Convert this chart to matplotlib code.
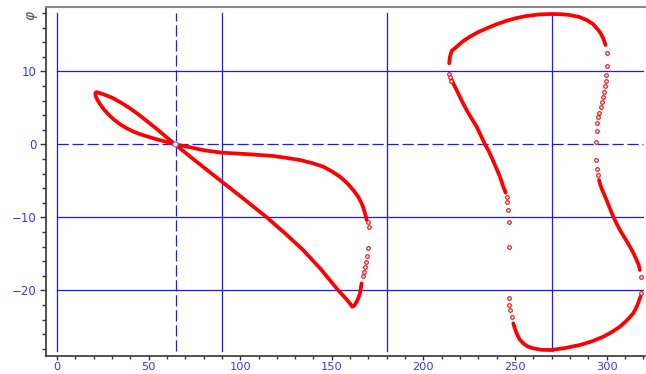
import matplotlib
matplotlib.use("Agg")
import matplotlib.pyplot as plt
from matplotlib.ticker import MultipleLocator

# ---- data ----
# left loop, dense part (traced in order)
left_x = [169.05, 168.6, 168.1, 167.3, 166.3, 164.2, 161.7, 158.3, 154.5, 150.0, 145.4, 139.0,
          132.6, 125.0, 118.1, 104.0, 90.2, 81.0, 72.6, 64.4,
          58.0, 53.5, 48.96, 45.2, 41.6, 38.0, 34.4, 31.0, 28.0, 25.5, 23.5, 22.0, 21.1, 20.9,
          21.5, 23.5, 27.0, 30.7, 35.3, 39.8, 44.4, 48.96, 53.5, 58.0, 64.4,
          72.6, 81.4, 90.2, 102.3, 114.5, 124.5, 134.4, 144.0, 153.5, 158.3, 160.2, 161.2,
          162.3, 163.6, 164.6, 165.4, 166.3]
left_y = [-10.37, -9.9, -9.45, -8.75, -8.08, -7.1, -6.26, -5.3, -4.44, -3.7, -3.07, -2.55,
          -2.15, -1.85, -1.60, -1.35, -1.15, -0.85, -0.41, 0.0,
          0.45, 0.75, 1.10, 1.4, 1.75, 2.2, 2.75, 3.4, 4.1, 4.8, 5.5, 6.1, 6.6, 7.0,
          7.15, 7.0, 6.7, 6.3, 5.65, 4.93, 4.1, 3.2, 2.3, 1.35, 0.0,
          -1.67, -3.42, -5.16, -7.55, -10.0, -12.2, -14.5, -17.1, -20.0, -21.3, -21.9, -22.25,
          -22.1, -21.56, -21.0, -20.4, -19.04]
# left loop, sparse samples
left_pts_x = [167.2, 167.6, 168.1, 168.7, 169.0, 169.9, 170.3, 169.8]
left_pts_y = [-18.1, -17.45, -16.77, -16.08, -15.34, -14.25, -11.29, -10.64]

# right loop, dense parts
r_left_x = [244.9, 244.3, 243.6, 242.8, 241.8, 240.5, 239.1, 237.3, 235.4, 233.6, 231.4,
            229.1, 226.3, 223.6, 221.2, 219.0, 217.5, 216.3, 215.4]
r_left_y = [-6.63, -6.2, -5.81, -5.15, -4.44, -3.65, -2.84, -1.8, -0.78, 0.0, 1.2,
            2.41, 3.55, 4.70, 5.85, 6.99, 7.75, 8.36, 8.9]
r_top_x = [214.1, 214.5, 215.5, 218.2, 221.5, 225.4, 229.8, 234.6, 240.0, 245.5, 250.8,
           256.4, 263.0, 269.7, 275.0, 280.0, 285.0, 289.1, 292.5, 295.5, 297.0, 298.2, 299.5]
r_top_y = [11.1, 12.0, 12.8, 13.37, 14.1, 14.74, 15.35, 15.89, 16.45, 16.93, 17.3,
           17.58, 17.78, 17.85, 17.83, 17.71, 17.45, 17.03, 16.5, 15.66, 15.1, 14.52, 13.6]
r_right_x = [295.9, 296.5, 297.3, 298.6, 300.0, 301.8, 303.7, 305.5, 307.3, 310.0, 312.8,
             314.8, 316.4, 317.5, 318.2]
r_right_y = [-4.89, -5.45, -6.03, -6.8, -7.63, -8.75, -9.92, -10.85, -11.74, -12.85, -14.03,
             -14.95, -15.85, -16.5, -17.22]
r_bottom_x = [318.6, 318.2, 316.6, 314.6, 311.2, 307.3, 303.0, 298.2, 292.0, 285.5, 277.5,
              269.7, 264.5, 260.0, 257.0, 254.5, 252.5, 250.9, 249.9, 249.1]
r_bottom_y = [-20.85, -21.1, -22.2, -23.15, -24.1, -24.99, -25.7, -26.36, -27.0, -27.49, -27.9,
              -28.18, -28.15, -27.95, -27.7, -27.26, -26.7, -25.89, -25.2, -24.52]
# right loop, sparse samples
right_pts_x = [214.1, 214.5, 215.1,
               300.0, 300.0, 299.5, 299.5, 299.1, 298.6, 297.9, 297.3, 296.8, 296.0, 295.5, 294.9,
               294.6, 294.0, 294.0, 294.6, 295.1,
               318.8, 318.8,
               248.2, 247.3, 246.7, 246.6, 246.6, 246.6, 246.0, 245.8, 245.5]
right_pts_y = [9.63, 9.18, 8.67,
               12.47, 10.73, 9.49, 8.71, 7.99, 7.2, 6.52, 5.84, 5.07, 4.33, 3.70, 2.88,
               1.82, 0.36, -2.19, -3.42, -4.21,
               -18.14, -20.41,
               -23.62, -22.7, -22.01, -21.0, -14.11, -10.68, -9.0, -7.95, -7.26]

# reference lines
vlines_x = [0, 90, 180, 270]
vline_dashed_x = 65
hlines_y = [10, -10, -20]
hline_dashed_y = 0
vline_span = (-28.3, 18.0)
hline_span = (0, 320)
crossing = (64.4, 0.0)

xticks = [0, 50, 100, 150, 200, 250, 300]
yticks = [-20, -10, 0, 10]

# ---- figure ----
fig = plt.figure(figsize=(6.46, 3.74), dpi=100)
ax = fig.add_axes([45.7 / 646, 1 - 356 / 374, (645 - 45.7) / 646, (356 - 7) / 374])
ax.set_xlim(-6.2, 321)
ax.set_ylim(-29.0, 18.81)

blue = "#1a1aff"
for xv in vlines_x:
    ax.plot([xv, xv], list(vline_span), color=blue, lw=0.9, zorder=1)
ax.plot([vline_dashed_x] * 2, list(vline_span), color=blue, lw=0.9, ls=(0, (9, 3)), zorder=1)
for yv in hlines_y:
    ax.plot(list(hline_span), [yv, yv], color=blue, lw=0.9, zorder=1)
ax.plot(list(hline_span), [hline_dashed_y] * 2, color=blue, lw=0.9, ls=(0, (9, 3)), zorder=1)

red = "#ff0000"
for xs, ys in [(left_x, left_y), (r_left_x, r_left_y), (r_top_x, r_top_y),
               (r_right_x, r_right_y), (r_bottom_x, r_bottom_y)]:
    ax.plot(xs, ys, color=red, lw=2.7, solid_joinstyle="round", solid_capstyle="round", zorder=3)
for xs, ys in [(left_pts_x, left_pts_y), (right_pts_x, right_pts_y)]:
    ax.plot(xs, ys, ls="none", marker="o", ms=2.6, mfc="white", mec=red, mew=0.8, zorder=3)

ax.plot([crossing[0]], [crossing[1]], ls="none", marker="o", ms=3.6, mfc="white",
        mec="#7777ff", mew=0.9, zorder=4)

# axes styling
ax.spines["right"].set_visible(False)
ax.spines["top"].set_color("#888888")
ax.spines["top"].set_linewidth(1.5)
for s in ["left", "bottom"]:
    ax.spines[s].set_color("#333333")
    ax.spines[s].set_linewidth(1.2)

ax.set_xticks(xticks)
ax.set_yticks(yticks)
ax.xaxis.set_minor_locator(MultipleLocator(10))
ax.yaxis.set_minor_locator(MultipleLocator(2))
ax.tick_params(which="both", direction="out", color="#333333", width=1.0)
ax.tick_params(axis="y", which="major", length=4.5, labelsize=8.5, labelcolor="#3838ff", pad=2)
ax.tick_params(axis="y", which="minor", length=3)
ax.tick_params(axis="x", which="major", length=3, labelsize=8.2, labelcolor="#3838ff", pad=1)
ax.tick_params(axis="x", which="minor", length=2.2)

fig.text(33 / 646, 1 - 16 / 374, r"$\varphi$", rotation=90, ha="center", va="center",
         fontsize=10, color="#555555")

fig.savefig("out.png", dpi=100)
